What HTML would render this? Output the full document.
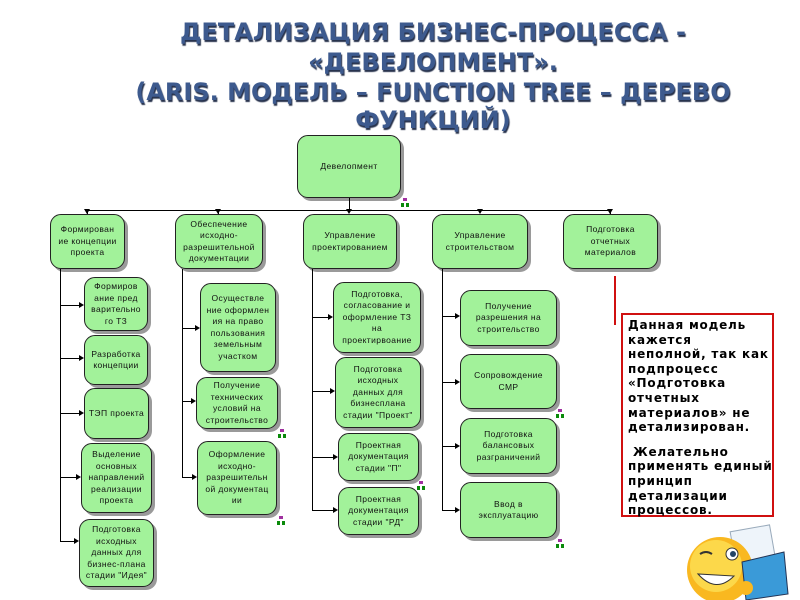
<!DOCTYPE html>
<html><head><meta charset="utf-8">
<style>
body{margin:0;width:800px;height:600px;background:#fff;position:relative;overflow:hidden;font-family:"Liberation Sans","DejaVu Sans",sans-serif}
.t{position:absolute;left:0;width:866px;text-align:center;font-family:"DejaVu Sans",sans-serif;font-weight:bold;font-size:24px;color:#3d5a8e;text-shadow:1px 2px 1px #28334d;white-space:nowrap;line-height:28px}
.b{position:absolute;box-sizing:border-box;background:#a2f29a;border:1px solid #222;border-radius:11px;box-shadow:3px 3px 0 #9a9a9a;display:flex;align-items:center;justify-content:center;text-align:center;font-size:8.5px;line-height:11.5px;color:#111;padding:1px;letter-spacing:0.4px;white-space:nowrap}
.l{position:absolute;background:#000}
.a{position:absolute;width:0;height:0;border-left:5px solid #000;border-top:3px solid transparent;border-bottom:3px solid transparent}
.d{position:absolute;width:0;height:0;border-top:5px solid #000;border-left:3px solid transparent;border-right:3px solid transparent}
.i{position:absolute;width:8px;height:9px}
.i:before{content:"";position:absolute;left:2px;top:0;width:4px;height:3px;background:#a030a0}
.i:after{content:"";position:absolute;left:0;top:5px;width:8px;height:4px;background:linear-gradient(90deg,#0a8a0a 0 3px,transparent 3px 5px,#0a8a0a 5px)}
</style></head><body>
<div class="t" style="top:18px">ДЕТАЛИЗАЦИЯ БИЗНЕС-ПРОЦЕССА -</div>
<div class="t" style="top:48px">«ДЕВЕЛОПМЕНТ».</div>
<div class="t" style="top:78px">(ARIS. МОДЕЛЬ – FUNCTION TREE – ДЕРЕВО</div>
<div class="t" style="top:106px">ФУНКЦИЙ)</div>

<div class="b" style="left:297px;top:135px;width:104px;height:63px">Девелопмент</div>
<div class="l" style="left:349px;top:198px;width:1px;height:12px"></div>
<div class="l" style="left:87px;top:210px;width:524px;height:1px"></div>
<div class="i" style="left:401px;top:198px"></div>
<div class="l" style="left:87px;top:210px;width:1px;height:4px"></div><div class="d" style="left:84px;top:209px"></div>
<div class="l" style="left:218px;top:210px;width:1px;height:4px"></div><div class="d" style="left:215px;top:209px"></div>
<div class="d" style="left:346px;top:209px"></div>
<div class="d" style="left:477px;top:209px"></div>
<div class="l" style="left:610px;top:210px;width:1px;height:4px"></div><div class="d" style="left:607px;top:209px"></div>

<div class="b" style="left:50px;top:214px;width:75px;height:55px">Формирован<br>ие концепции<br>проекта</div>
<div class="b" style="left:175px;top:214px;width:88px;height:55px">Обеспечение<br>исходно-<br>разрешительной<br>документации</div>
<div class="b" style="left:303px;top:214px;width:94px;height:55px">Управление<br>проектированием</div>
<div class="b" style="left:432px;top:214px;width:96px;height:55px">Управление<br>строительством</div>
<div class="b" style="left:563px;top:214px;width:95px;height:55px">Подготовка<br>отчетных<br>материалов</div>

<!-- col1 -->
<div class="l" style="left:60px;top:269px;width:1px;height:273px"></div>
<div class="l" style="left:60px;top:305px;width:20px;height:1px"></div><div class="a" style="left:79px;top:302px"></div>
<div class="l" style="left:60px;top:358px;width:20px;height:1px"></div><div class="a" style="left:79px;top:355px"></div>
<div class="l" style="left:60px;top:413px;width:20px;height:1px"></div><div class="a" style="left:79px;top:410px"></div>
<div class="l" style="left:60px;top:477px;width:17px;height:1px"></div><div class="a" style="left:76px;top:474px"></div>
<div class="l" style="left:60px;top:541px;width:15px;height:1px"></div><div class="a" style="left:74px;top:538px"></div>
<div class="b" style="left:84px;top:277px;width:64px;height:54px">Формиров<br>ание пред<br>варительно<br>го ТЗ</div>
<div class="b" style="left:84px;top:335px;width:64px;height:50px">Разработка<br>концепции</div>
<div class="b" style="left:84px;top:388px;width:65px;height:51px">ТЭП проекта</div>
<div class="b" style="left:81px;top:443px;width:71px;height:70px">Выделение<br>основных<br>направлений<br>реализации<br>проекта</div>
<div class="b" style="left:79px;top:519px;width:75px;height:68px">Подготовка<br>исходных<br>данных для<br>бизнес-плана<br>стадии "Идея"</div>

<!-- col2 -->
<div class="l" style="left:182px;top:269px;width:1px;height:209px"></div>
<div class="l" style="left:182px;top:328px;width:14px;height:1px"></div><div class="a" style="left:195px;top:325px"></div>
<div class="l" style="left:182px;top:401px;width:10px;height:1px"></div><div class="a" style="left:191px;top:398px"></div>
<div class="l" style="left:182px;top:477px;width:11px;height:1px"></div><div class="a" style="left:192px;top:474px"></div>
<div class="b" style="left:200px;top:283px;width:76px;height:89px">Осуществле<br>ние оформлен<br>ия на право<br>пользования<br>земельным<br>участком</div>
<div class="b" style="left:196px;top:377px;width:82px;height:52px">Получение<br>технических<br>условий на<br>строительство</div>
<div class="b" style="left:197px;top:441px;width:80px;height:74px">Оформление<br>исходно-<br>разрешительн<br>ой документац<br>ии</div>
<div class="i" style="left:278px;top:429px"></div>
<div class="i" style="left:277px;top:516px"></div>

<!-- col3 -->
<div class="l" style="left:312px;top:269px;width:1px;height:242px"></div>
<div class="l" style="left:312px;top:317px;width:17px;height:1px"></div><div class="a" style="left:328px;top:314px"></div>
<div class="l" style="left:312px;top:391px;width:19px;height:1px"></div><div class="a" style="left:330px;top:388px"></div>
<div class="l" style="left:312px;top:457px;width:22px;height:1px"></div><div class="a" style="left:333px;top:454px"></div>
<div class="l" style="left:312px;top:510px;width:22px;height:1px"></div><div class="a" style="left:333px;top:507px"></div>
<div class="b" style="left:333px;top:282px;width:88px;height:71px">Подготовка,<br>согласование и<br>оформление ТЗ<br>на<br>проектирвоание</div>
<div class="b" style="left:335px;top:357px;width:86px;height:71px">Подготовка<br>исходных<br>данных для<br>бизнесплана<br>стадии "Проект"</div>
<div class="b" style="left:338px;top:433px;width:81px;height:48px">Проектная<br>документация<br>стадии "П"</div>
<div class="b" style="left:338px;top:487px;width:81px;height:48px">Проектная<br>документация<br>стадии "РД"</div>
<div class="i" style="left:417px;top:481px"></div>

<!-- col4 -->
<div class="l" style="left:442px;top:269px;width:1px;height:242px"></div>
<div class="l" style="left:442px;top:316px;width:14px;height:1px"></div><div class="a" style="left:455px;top:313px"></div>
<div class="l" style="left:442px;top:382px;width:14px;height:1px"></div><div class="a" style="left:455px;top:379px"></div>
<div class="l" style="left:442px;top:446px;width:14px;height:1px"></div><div class="a" style="left:455px;top:443px"></div>
<div class="l" style="left:442px;top:510px;width:14px;height:1px"></div><div class="a" style="left:455px;top:507px"></div>
<div class="b" style="left:460px;top:290px;width:97px;height:56px">Получение<br>разрешения на<br>строительство</div>
<div class="b" style="left:460px;top:354px;width:97px;height:55px">Сопровождение<br>СМР</div>
<div class="b" style="left:460px;top:418px;width:97px;height:56px">Подготовка<br>балансовых<br>разграничений</div>
<div class="b" style="left:460px;top:482px;width:97px;height:56px">Ввод в<br>эксплуатацию</div>
<div class="i" style="left:556px;top:409px"></div>
<div class="i" style="left:556px;top:539px"></div>

<!-- note -->
<div style="position:absolute;left:614px;top:276px;width:2px;height:49px;background:#d01010"></div>
<div style="position:absolute;left:621px;top:313px;width:149px;height:200px;border:2px solid #d01010"></div>
<div style="position:absolute;left:628px;top:318px;width:160px;font-family:'DejaVu Sans',sans-serif;font-weight:bold;font-size:12px;line-height:14.6px;color:#000;letter-spacing:0.8px;white-space:nowrap">Данная модель<br>кажется<br>неполной, так как<br>подпроцесс<br>«Подготовка<br>отчетных<br>материалов» не<br>детализирован.<div style="height:10px"></div>&nbsp;Желательно<br>применять единый<br>принцип<br>детализации<br>процессов.</div>

<!-- smiley -->
<svg style="position:absolute;left:676px;top:522px" width="124" height="78">
<rect x="58" y="6" width="40" height="50" fill="#eef4fa" stroke="#9ab" transform="rotate(-10 78 30)"/>
<circle cx="44" cy="48" r="33" fill="#f9b820"/>
<circle cx="40" cy="44" r="26" fill="#fcd84a"/>
<path d="M22 52 Q40 72 58 54 Z" fill="#fff" stroke="#333"/>
<circle cx="56" cy="32" r="6" fill="#fff" stroke="#333"/><circle cx="57" cy="32" r="3" fill="#246"/>
<path d="M24 32 Q30 28 36 32" stroke="#333" stroke-width="2" fill="none"/>
<path d="M66 40 L108 30 L112 72 L70 78 Z" fill="#3a9ad8" stroke="#235"/>
<circle cx="70" cy="66" r="7" fill="#f9b820"/>
</svg>
</body></html>
